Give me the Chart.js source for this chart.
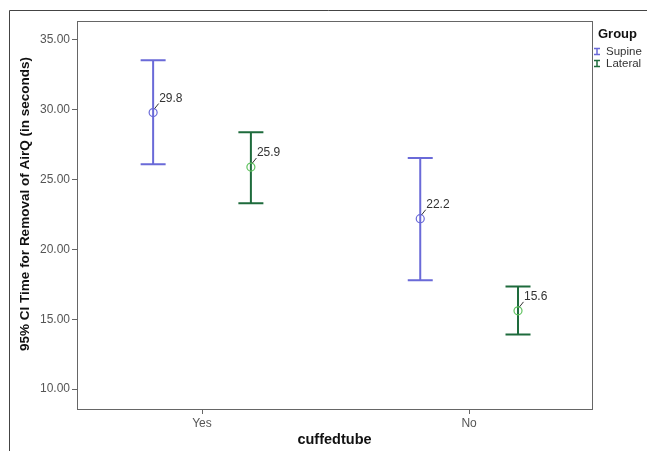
<!DOCTYPE html>
<html>
<head>
<meta charset="utf-8">
<script src="https://cdn.jsdelivr.net/npm/chart.js@4.4.0/dist/chart.umd.min.js"></script>
<style>
html, body { margin: 0; padding: 0; background: #fff; }
</style>
</head>
<body>
<canvas id="chart" width="647" height="451"></canvas>
<script>
// Data
var categories = ["Yes", "No"];
var groups = ["Supine", "Lateral"];
var supineMean = [29.8, 22.2];
var supineLow = [26.1, 17.8];
var supineHigh = [33.55, 26.55];
var lateralMean = [25.9, 15.6];
var lateralLow = [23.3, 13.9];
var lateralHigh = [28.4, 17.35];
var yTicks = [10, 15, 20, 25, 30, 35];

// Colors
var blueColor = "#6a6ad8";
var greenColor = "#1e6b3c";
var greenPoint = "#5fc25f";
var textColor = "#555555";
var fontName = "Arial, 'Liberation Sans', sans-serif";

var groupOffset = 0.183;

function buildPoints(means, lows, highs, shift) {
    var pts = [];
    for (var i = 0; i < categories.length; i++) {
        pts.push({x: i + 1 + shift, y: means[i], lo: lows[i], hi: highs[i]});
    }
    return pts;
}

var datasets = [
    {label: groups[0], data: buildPoints(supineMean, supineLow, supineHigh, -groupOffset),
     barColor: blueColor, borderColor: blueColor, backgroundColor: "rgba(0,0,0,0)",
     pointRadius: 4, pointBorderWidth: 1.2, pointHoverRadius: 4},
    {label: groups[1], data: buildPoints(lateralMean, lateralLow, lateralHigh, groupOffset),
     barColor: greenColor, borderColor: greenPoint, backgroundColor: "rgba(0,0,0,0)",
     pointRadius: 4, pointBorderWidth: 1.2, pointHoverRadius: 4}
];

// Draws whiskers, value labels, frame, axis titles and legend
var errorBarPlugin = {
    id: 'errorBars',
    beforeDatasetsDraw: function(chart) {
        var ctx = chart.ctx, xs = chart.scales.x, ys = chart.scales.y;
        ctx.save();
        ctx.lineWidth = 2;
        chart.data.datasets.forEach(function(ds) {
            ctx.strokeStyle = ds.barColor;
            ds.data.forEach(function(p) {
                var x = xs.getPixelForValue(p.x);
                var yl = ys.getPixelForValue(p.lo);
                var yh = ys.getPixelForValue(p.hi);
                ctx.beginPath();
                ctx.moveTo(x, yl); ctx.lineTo(x, yh);
                ctx.moveTo(x - 12.5, yl); ctx.lineTo(x + 12.5, yl);
                ctx.moveTo(x - 12.5, yh); ctx.lineTo(x + 12.5, yh);
                ctx.stroke();
            });
        });
        ctx.restore();
    },
    afterDatasetsDraw: function(chart) {
        var ctx = chart.ctx, xs = chart.scales.x, ys = chart.scales.y;
        ctx.save();
        ctx.font = "12px " + fontName;
        ctx.fillStyle = "#333";
        ctx.strokeStyle = "#333";
        ctx.lineWidth = 1;
        ctx.textBaseline = "middle";
        chart.data.datasets.forEach(function(ds) {
            ds.data.forEach(function(p) {
                var x = xs.getPixelForValue(p.x);
                var y = ys.getPixelForValue(p.y);
                ctx.beginPath();
                ctx.moveTo(x + 1.5, y - 4);
                ctx.lineTo(x + 5.5, y - 9);
                ctx.stroke();
                ctx.fillText(p.y.toFixed(1), x + 6, y - 14);
            });
        });
        ctx.restore();
    },
    afterDraw: function(chart) {
        var ctx = chart.ctx, a = chart.chartArea;
        ctx.save();
        // outer frame
        ctx.strokeStyle = "#444";
        ctx.lineWidth = 1;
        ctx.beginPath();
        ctx.moveTo(9.5, 460); ctx.lineTo(9.5, 10.5); ctx.lineTo(660, 10.5);
        ctx.stroke();
        // plot box
        ctx.strokeStyle = "#666";
        ctx.strokeRect(Math.round(a.left) + 0.5, Math.round(a.top) + 0.5,
                       Math.round(a.right - a.left), Math.round(a.bottom - a.top));
        // axis titles
        ctx.fillStyle = "#111";
        ctx.font = "bold 13.5px " + fontName;
        ctx.textAlign = "center";
        ctx.textBaseline = "middle";
        ctx.save();
        ctx.translate(25, 204);
        ctx.rotate(-Math.PI / 2);
        ctx.fillText("95% CI Time for Removal of AirQ (in seconds)", 0, 0);
        ctx.restore();
        ctx.font = "bold 14.5px " + fontName;
        ctx.fillText("cuffedtube", (a.left + a.right) / 2, 440);
        // legend
        ctx.textAlign = "left";
        ctx.font = "bold 13px " + fontName;
        ctx.fillText("Group", 598, 34);
        ctx.font = "11.5px " + fontName;
        chart.data.datasets.forEach(function(ds, i) {
            var y = 51.5 + i * 12;
            ctx.strokeStyle = ds.barColor;
            ctx.lineWidth = 1.5;
            ctx.beginPath();
            ctx.moveTo(594, y - 3); ctx.lineTo(600, y - 3);
            ctx.moveTo(597, y - 3); ctx.lineTo(597, y + 3);
            ctx.moveTo(594, y + 3); ctx.lineTo(600, y + 3);
            ctx.stroke();
            ctx.fillStyle = "#333";
            ctx.fillText(ds.label, 606, y);
        });
        ctx.restore();
    }
};

var chart = new Chart(document.getElementById('chart'), {
    type: 'scatter',
    data: {datasets: datasets},
    options: {
        responsive: false,
        animation: false,
        layout: {padding: {left: 0, top: 21, right: 55, bottom: 0}},
        plugins: {legend: {display: false}, tooltip: {enabled: false}},
        scales: {
            x: {
                type: 'linear',
                min: 0.532,
                max: 2.46,
                afterBuildTicks: function(scale) {
                    scale.ticks = categories.map(function(c, i) { return {value: i + 1}; });
                },
                afterFit: function(scale) { scale.height = 42; },
                ticks: {
                    color: textColor,
                    font: {size: 12, family: fontName},
                    padding: 2,
                    callback: function(v) { return categories[v - 1]; }
                },
                grid: {drawOnChartArea: false, tickLength: 5, color: "#666"},
                border: {color: "#666"}
            },
            y: {
                type: 'linear',
                min: 8.57,
                max: 36.36,
                afterBuildTicks: function(scale) {
                    scale.ticks = yTicks.map(function(v) { return {value: v}; });
                },
                afterFit: function(scale) { scale.width = 77; },
                ticks: {
                    color: textColor,
                    font: {size: 12, family: fontName},
                    padding: 2,
                    callback: function(v) { return v.toFixed(2); }
                },
                grid: {drawOnChartArea: false, tickLength: 5, color: "#666"},
                border: {color: "#666"}
            }
        }
    },
    plugins: [errorBarPlugin]
});
</script>
</body>
</html>
